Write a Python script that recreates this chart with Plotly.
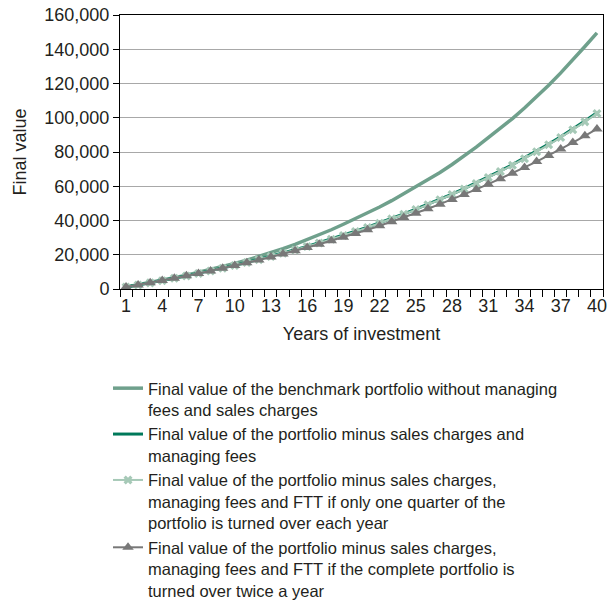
import plotly.graph_objects as go

years = list(range(1, 41))
tick_years = [1, 4, 7, 10, 13, 16, 19, 22, 25, 28, 31, 34, 37, 40]
tick_text = [str(v) for v in tick_years]

benchmark = [1200, 2450, 3750, 5100, 6550, 8050, 9650, 11300, 13050, 14900,
             16850, 18900, 21100, 23500, 26000, 28700, 31500, 34600, 37800, 41100,
             44400, 47900, 51600, 55600, 59600, 63700, 68000, 72700, 77600, 82800,
             88400, 93800, 99500, 105700, 112200, 119000, 126200, 133700, 141600, 149600]

minus_fees = [1150, 2350, 3600, 4900, 6250, 7650, 9100, 10600, 12150, 13800,
              15500, 17250, 19050, 20950, 22900, 24900, 27000, 29150, 31400, 33700,
              36100, 38600, 41150, 43850, 46600, 49450, 52400, 55450, 58650, 61950,
              65400, 68950, 72650, 76500, 80500, 84650, 88950, 93450, 98100, 103000]

ftt_quarter = [1140, 2340, 3580, 4870, 6220, 7610, 9050, 10550, 12090, 13730,
               15420, 17160, 18950, 20840, 22780, 24770, 26860, 29000, 31240, 33530,
               35920, 38400, 40940, 43620, 46360, 49200, 52130, 55170, 58350, 61630,
               65060, 68600, 72280, 76110, 80090, 84220, 88500, 92980, 97600, 102500]

ftt_twice = [1180, 2400, 3650, 4950, 6290, 7670, 9100, 10570, 12090, 13660,
             15280, 16950, 18680, 20460, 22290, 24190, 26150, 28170, 30260, 32410,
             34630, 36930, 39300, 41740, 44270, 46870, 49560, 52330, 55200, 58160,
             61210, 64360, 67610, 70970, 74430, 78010, 81700, 85510, 89440, 93500]

names = [
    "Final value of the benchmark portfolio without managing<br>fees and sales charges",
    "Final value of the portfolio minus sales charges and<br>managing fees",
    "Final value of the portfolio minus sales charges,<br>managing fees and FTT if only one quarter of the<br>portfolio is turned over each year",
    "Final value of the portfolio minus sales charges,<br>managing fees and FTT if the complete portfolio is<br>turned over twice a year",
]

FONT = "Liberation Sans, Arial, sans-serif"
TXT = "#231f20"

fig = go.Figure()
fig.add_trace(go.Scatter(x=years, y=benchmark, name=names[0], mode="lines",
                         line=dict(color="#6fa08c", width=3.5)))
fig.add_trace(go.Scatter(x=years, y=minus_fees, name=names[1], mode="lines",
                         line=dict(color="#00795a", width=3)))
fig.add_trace(go.Scatter(x=years, y=ftt_quarter, name=names[2], mode="lines+markers",
                         line=dict(color="#a6c9b7", width=2),
                         marker=dict(symbol="x", size=8, color="#a6c9b7")))
fig.add_trace(go.Scatter(x=years, y=ftt_twice, name=names[3], mode="lines+markers",
                         line=dict(color="#787878", width=2),
                         marker=dict(symbol="triangle-up", size=10, color="#787878")))

fig.update_layout(
    width=616, height=602,
    margin=dict(l=120, r=13, t=15, b=313, autoexpand=False),
    paper_bgcolor="white", plot_bgcolor="white",
    font=dict(family=FONT, size=18, color=TXT),
    showlegend=True,
    legend=dict(x=-0.0248, y=-0.299, xanchor="left", yanchor="top",
                orientation="v", valign="top", bgcolor="rgba(0,0,0,0)",
                font=dict(family=FONT, size=16.5, color=TXT)),
)

fig.update_xaxes(
    range=[0.5, 40.5], tickmode="array", tickvals=tick_years, ticktext=tick_text,
    ticks="", showgrid=False, zeroline=False,
    showline=True, linecolor="black", linewidth=1, mirror=True,
    tickfont=dict(size=18, color=TXT),
    minor=dict(tickmode="linear", tick0=0.5, dtick=1, ticks="outside",
               ticklen=7, tickcolor="black", tickwidth=1, showgrid=False),
    title=dict(text="\u00a0" * 7 + "Years of investment", font=dict(size=18, color=TXT), standoff=12),
)

fig.update_yaxes(
    range=[0, 160000], dtick=20000, tickformat=",d",
    ticks="outside", ticklen=6, tickcolor="black",
    showgrid=True, gridcolor="#a8a8a8", gridwidth=1, zeroline=False,
    showline=True, linecolor="black", linewidth=1, mirror=True,
    tickfont=dict(size=18, color=TXT),
    title=dict(text="Final value", font=dict(size=18, color=TXT), standoff=13),
)

fig.write_html("out.html", config={"displayModeBar": False},
               post_script="document.body.style.margin='0';")
